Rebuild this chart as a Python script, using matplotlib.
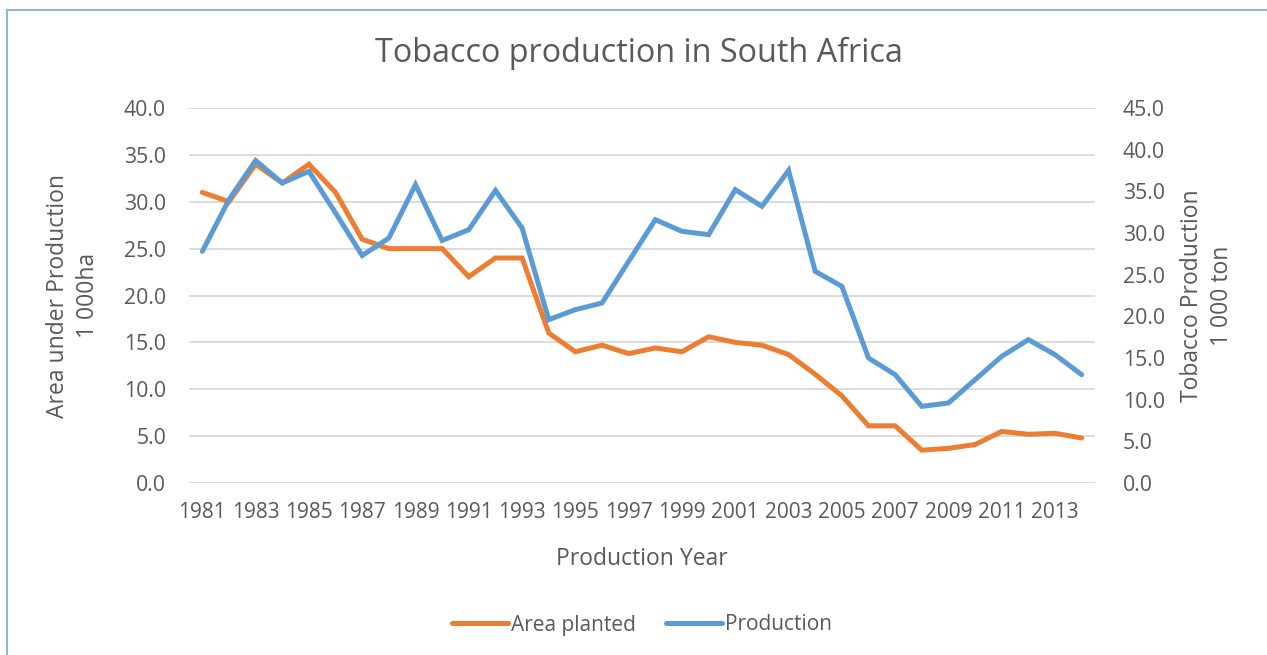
import matplotlib.pyplot as plt
from matplotlib.lines import Line2D

plt.rcParams["font.family"] = ["Open Sans", "DejaVu Sans"]

years = list(range(1981, 2015))
area_planted = [31.0, 30.0, 34.0, 32.0, 34.0, 31.0, 26.0, 25.0, 25.0, 25.0,
                22.0, 24.0, 24.0, 16.0, 14.0, 14.7, 13.8, 14.4, 14.0, 15.6,
                15.0, 14.7, 13.7, 11.6, 9.3, 6.1, 6.1, 3.5, 3.7, 4.1,
                5.5, 5.2, 5.3, 4.8]
production = [27.8, 34.0, 38.7, 36.0, 37.4, 32.4, 27.3, 29.4, 35.8, 29.1,
              30.4, 35.1, 30.6, 19.6, 20.8, 21.6, 26.6, 31.6, 30.2, 29.8,
              35.2, 33.2, 37.5, 25.4, 23.6, 15.0, 13.0, 9.2, 9.6, 12.4,
              15.2, 17.2, 15.4, 13.0]
xtick_years = years[::2]

text_col = "#595959"
grid_col = "#d9d9d9"
orange = "#ED7D31"
blue = "#5B9BD5"

fig = plt.figure(figsize=(12.67, 6.55), dpi=100)
ax = fig.add_axes([189 / 1267, 1 - 483 / 655, 906 / 1267, 375 / 655])
ax2 = ax.twinx()

ax.plot(years, area_planted, color=orange, lw=3.6, solid_capstyle="round",
        solid_joinstyle="miter", zorder=3)
ax2.plot(years, production, color=blue, lw=3.6, solid_capstyle="round",
         solid_joinstyle="miter", zorder=3)

ax.set_xlim(1980.5, 2014.5)
ax.set_ylim(0, 40)
ax2.set_ylim(0, 45)
ax.set_yticks([i * 5 for i in range(9)])
ax2.set_yticks([i * 5 for i in range(10)])
ax.set_yticklabels([f"{i * 5:.1f}" for i in range(9)])
ax2.set_yticklabels([f"{i * 5:.1f}" for i in range(10)])
ax.set_xticks(xtick_years)
ax.set_xticklabels([str(y) for y in xtick_years])

ax.yaxis.grid(True, color=grid_col, lw=1.3)
ax.set_axisbelow(True)
for a in (ax, ax2):
    for s in a.spines.values():
        s.set_visible(False)
    a.tick_params(length=0, labelsize=15.3, colors=text_col)
ax.tick_params(axis="x", labelsize=15, pad=14)
ax.tick_params(axis="y", pad=16.5)
ax2.tick_params(axis="y", pad=20)

ax.set_ylabel("Area under Production\n1 000ha", fontsize=16.5, color=text_col,
              linespacing=1.35)
ax.yaxis.set_label_coords(-0.098, 0.5)
ax2.set_ylabel("Tobacco Production\n1 000 ton", fontsize=16.5, color=text_col,
               linespacing=1.35)
ax2.yaxis.set_label_coords(1.094, 0.5)
ax.set_xlabel("Production Year", fontsize=16.5, color=text_col, labelpad=17)

fig.text(639 / 1267, 1 - 53 / 655, "Tobacco production in South Africa",
         ha="center", va="center", fontsize=23.3, color=text_col)

handles = [Line2D([], [], color=orange, lw=3.6, solid_capstyle="round"),
           Line2D([], [], color=blue, lw=3.6, solid_capstyle="round")]
fig.legend(handles, ["Area planted", "Production"], loc="center",
           bbox_to_anchor=(642 / 1267, 1 - 625 / 655), ncol=2, frameon=False,
           fontsize=15, labelcolor=text_col, handlelength=2.7,
           handletextpad=0.15, columnspacing=1.4)

# chart frame (only left and top edges are visible in the crop)
fig.add_artist(Line2D([7 / 1267, 7 / 1267], [0, 1 - 10 / 655],
                      transform=fig.transFigure, color="#8eb4e3", lw=1.5))
fig.add_artist(Line2D([7 / 1267, 1], [1 - 10 / 655, 1 - 10 / 655],
                      transform=fig.transFigure, color="#8eb4e3", lw=1.5))

fig.savefig("out.png", dpi=100)
